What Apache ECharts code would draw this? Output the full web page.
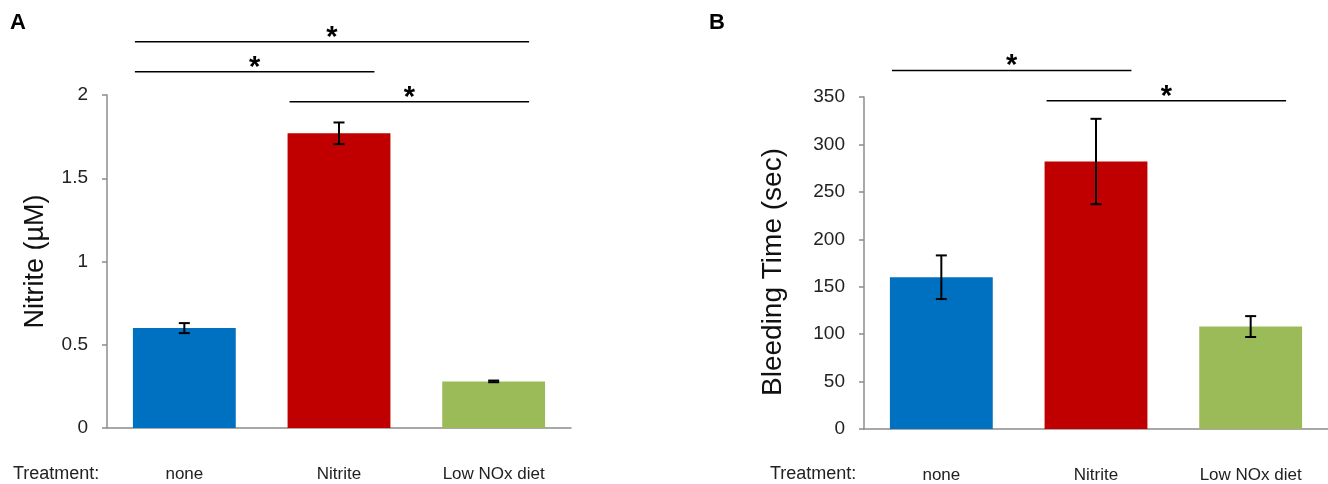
<!DOCTYPE html>
<html><head><meta charset="utf-8">
<script src="https://cdn.jsdelivr.net/npm/echarts@6/dist/echarts.min.js"></script>
<style>html,body{margin:0;padding:0;background:#fff}#c{width:1328px;height:484px}</style>
</head><body><div id="c"></div>
<script>
const categories = ['none', 'Nitrite', 'Low NOx diet'];
const nitrite = [0.60, 1.77, 0.28];
const nitriteErr = [0.03, 0.065, 0.005];
const bleeding = [160, 282, 108];
const bleedingErr = [23, 45, 11];
const barColors = ['#0070C0', '#C00000', '#9BBB59'];
// significance brackets: [from category, to category, height in axis units]
const sigA = [[0, 2, 2.32], [0, 1, 2.14], [1, 2, 1.96]];
const sigB = [[0, 1, 378], [1, 2, 346]];
const yAxisA = { min: 0, max: 2, interval: 0.5, name: 'Nitrite (\u00B5M)' };
const yAxisB = { min: 0, max: 350, interval: 50, name: 'Bleeding Time (sec)' };

const FONT = 'Liberation Sans, Arial, sans-serif';
const chart = echarts.init(document.getElementById('c'), null, { renderer: 'canvas' });
const BAR_FRAC = 0.665;

function errRender(params, api) {
  const x = api.value(0), v = api.value(1), e = api.value(2);
  const t = api.coord([x, v + e]);
  const b = api.coord([x, v - e]);
  const hw = 5.5;
  const st = { stroke: '#000', lineWidth: 2 };
  return { type: 'group', children: [
    { type: 'line', shape: { x1: t[0], y1: t[1], x2: b[0], y2: b[1] }, style: st },
    { type: 'line', shape: { x1: t[0] - hw, y1: t[1], x2: t[0] + hw, y2: t[1] }, style: st },
    { type: 'line', shape: { x1: b[0] - hw, y1: b[1], x2: b[0] + hw, y2: b[1] }, style: st }
  ]};
}
function sigRender(params, api) {
  const i = api.value(0), j = api.value(1), lv = api.value(2);
  const bw = api.size([1, 0])[0] * BAR_FRAC;
  const p1 = api.coord([i, lv]);
  const p2 = api.coord([j, lv]);
  const x1 = p1[0] - bw / 2 + 2, x2 = p2[0] + bw / 2 - 16;
  return { type: 'group', children: [
    { type: 'line', shape: { x1: x1, y1: p1[1], x2: x2, y2: p1[1] }, style: { stroke: '#000', lineWidth: 1.5 } },
    { type: 'text', style: { text: '*', x: (x1 + x2) / 2, y: p1[1] - 4, align: 'center', verticalAlign: 'middle',
      fontSize: 29, fontWeight: 'bold', fontFamily: FONT, fill: '#000' } }
  ]};
}

function mkX(gi) {
  return { type: 'category', gridIndex: gi, data: categories,
    axisLine: { lineStyle: { color: '#8c8c8c', width: 1.5 } }, axisTick: { show: false },
    axisLabel: { color: '#222', fontSize: 17, fontFamily: FONT, margin: 38 } };
}
function mkY(gi, cfg, gap, nsize, pad) {
  return { type: 'value', gridIndex: gi, min: cfg.min, max: cfg.max, interval: cfg.interval,
    name: cfg.name, nameLocation: 'middle', nameGap: gap, nameRotate: 90,
    nameTextStyle: { color: '#111', fontSize: nsize, fontFamily: FONT, padding: pad },
    splitLine: { show: false },
    axisLine: { show: true, lineStyle: { color: '#8c8c8c', width: 1.5 } },
    axisTick: { show: true, length: 5, lineStyle: { color: '#8c8c8c', width: 1.5 } },
    axisLabel: { color: '#222', fontSize: 19, fontFamily: FONT, margin: 19 } };
}

const option = {
  animation: false,
  backgroundColor: '#fff',
  grid: [
    { left: 107, top: 95, width: 464, height: 333 },
    { left: 864, top: 97, width: 464, height: 333 }
  ],
  xAxis: [mkX(0), mkX(1)],
  yAxis: [mkY(0, yAxisA, 58, 27, [0, 0, 0, 0]), mkY(1, yAxisB, 77, 28, [0, 18, 0, 0])],
  graphic: [
    { type: 'text', left: 10, top: 12, style: { text: 'A', fontSize: 22, fontWeight: 'bold', fontFamily: FONT, fill: '#000' } },
    { type: 'text', left: 709, top: 12, style: { text: 'B', fontSize: 22, fontWeight: 'bold', fontFamily: FONT, fill: '#000' } },
    { type: 'text', left: 13, top: 465, style: { text: 'Treatment:', fontSize: 18, fontFamily: FONT, fill: '#222' } },
    { type: 'text', left: 770, top: 465, style: { text: 'Treatment:', fontSize: 18, fontFamily: FONT, fill: '#222' } }
  ],
  series: [
    { type: 'bar', xAxisIndex: 0, yAxisIndex: 0, barWidth: (BAR_FRAC * 100) + '%',
      data: nitrite.map((v, k) => ({ value: v, itemStyle: { color: barColors[k] } })) },
    { type: 'custom', xAxisIndex: 0, yAxisIndex: 0, renderItem: errRender, encode: { x: 0, y: 1 }, z: 5,
      data: nitrite.map((v, k) => [k, v, nitriteErr[k]]) },
    { type: 'custom', xAxisIndex: 0, yAxisIndex: 0, renderItem: sigRender, encode: { x: 0, y: 2 }, z: 5, clip: false,
      data: sigA },
    { type: 'bar', xAxisIndex: 1, yAxisIndex: 1, barWidth: (BAR_FRAC * 100) + '%',
      data: bleeding.map((v, k) => ({ value: v, itemStyle: { color: barColors[k] } })) },
    { type: 'custom', xAxisIndex: 1, yAxisIndex: 1, renderItem: errRender, encode: { x: 0, y: 1 }, z: 5,
      data: bleeding.map((v, k) => [k, v, bleedingErr[k]]) },
    { type: 'custom', xAxisIndex: 1, yAxisIndex: 1, renderItem: sigRender, encode: { x: 0, y: 2 }, z: 5, clip: false,
      data: sigB }
  ]
};
chart.setOption(option);
</script></body></html>
